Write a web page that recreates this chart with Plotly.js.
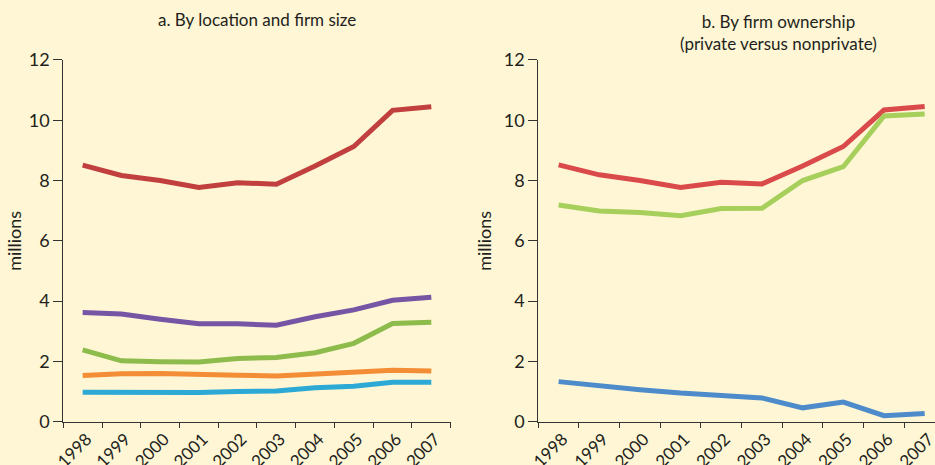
<!DOCTYPE html>
<html>
<head>
<meta charset="utf-8">
<script src="https://cdn.plot.ly/plotly-3.0.1.min.js"></script>
<style>
html,body{margin:0;padding:0;background:#FEF6D4;}
#chart{width:935px;height:465px;}
</style>
</head>
<body>
<div id="chart"></div>
<script>
const years = ['1998','1999','2000','2001','2002','2003','2004','2005','2006','2007'];
const yTicks = [0, 2, 4, 6, 8, 10, 12];

// Panel a: by location and firm size
const aRed    = [8.51, 8.17, 8.00, 7.77, 7.93, 7.88, 8.48, 9.13, 10.33, 10.45];
const aPurple = [3.62, 3.57, 3.40, 3.25, 3.25, 3.20, 3.48, 3.71, 4.03, 4.13];
const aGreen  = [2.38, 2.02, 1.99, 1.98, 2.10, 2.13, 2.29, 2.60, 3.26, 3.30];
const aOrange = [1.53, 1.59, 1.60, 1.55, 1.54, 1.52, 1.58, 1.64, 1.71, 1.68];
const aCyan   = [0.98, 0.97, 1.00, 0.97, 1.00, 1.02, 1.13, 1.18, 1.31, 1.31];

// Panel b: by firm ownership
const bRed   = [8.52, 8.19, 8.00, 7.77, 7.94, 7.89, 8.48, 9.13, 10.34, 10.46];
const bGreen = [7.19, 6.99, 6.94, 6.83, 7.07, 7.08, 8.00, 8.46, 10.14, 10.21];
const bBlue  = [1.33, 1.18, 1.06, 0.95, 0.85, 0.79, 0.46, 0.65, 0.20, 0.27];

const titleA = 'a. By location and firm size';
const titleB = 'b. By firm ownership<br>(private versus nonprivate)';
const yTitle = 'millions';

const FONT = 'Lato, "Open Sans", sans-serif';
const TXT = '#231F20';

function line(y, color, xa, ya) {
  return {x: years, y: y, type: 'scatter', mode: 'lines', xaxis: xa, yaxis: ya,
          line: {color: color, width: 5}, hoverinfo: 'skip'};
}

const data = [
  line(aRed, '#C1403F', 'x', 'y'),
  line(aPurple, '#7655A5', 'x', 'y'),
  line(aGreen, '#8DBB4C', 'x', 'y'),
  line(aOrange, '#F38E37', 'x', 'y'),
  line(aCyan, '#2CA9D5', 'x', 'y'),
  line(bRed, '#DB4A4B', 'x2', 'y2'),
  line(bGreen, '#A6CF5B', 'x2', 'y2'),
  line(bBlue, '#4D8BCB', 'x2', 'y2')
];

function xax(domain, range) {
  return {domain: domain, range: range, type: 'category', tickson: 'boundaries',
    showline: true, linecolor: '#333', linewidth: 1, ticks: 'outside', ticklen: 5,
    tickcolor: '#333', tickwidth: 1, tickangle: -45, showgrid: false, zeroline: false,
    ticklabelshift: 4,
    tickfont: {family: FONT, size: 17, color: TXT}, fixedrange: true};
}
function yax(anchor, standoff) {
  return {domain: [0.0931, 0.871], range: [0, 12], tickvals: yTicks, anchor: anchor,
    showline: true, linecolor: '#333', linewidth: 1, ticks: 'outside', ticklen: 9,
    tickcolor: '#333', tickwidth: 1, showgrid: false, zeroline: false,
    tickfont: {family: FONT, size: 18, color: TXT},
    title: {text: yTitle, font: {family: FONT, size: 18, color: TXT}, standoff: standoff},
    fixedrange: true};
}

const layout = {
  width: 935, height: 465,
  margin: {l: 0, r: 0, t: 0, b: 0},
  paper_bgcolor: '#FEF6D4', plot_bgcolor: '#FEF6D4',
  showlegend: false,
  xaxis: Object.assign(xax([0.0677, 0.482], [-0.5, 9.5]), {anchor: 'y'}),
  yaxis: yax('x', 2),
  xaxis2: Object.assign(xax([0.5757, 1], [-0.5, 9.254]), {anchor: 'y2'}),
  yaxis2: yax('x2', 7),
  annotations: [
    {text: titleA, xref: 'paper', yref: 'paper', x: 256.7/935, y: 1 - 20/465,
     xanchor: 'center', yanchor: 'middle', showarrow: false,
     font: {family: FONT, size: 17, color: TXT}},
    {text: titleB, xref: 'paper', yref: 'paper', x: 778/935, y: 1 - 33/465,
     xanchor: 'center', yanchor: 'middle', showarrow: false,
     font: {family: FONT, size: 17, color: TXT}}
  ]
};

Plotly.newPlot('chart', data, layout, {displayModeBar: false, staticPlot: true});
</script>
</body>
</html>
